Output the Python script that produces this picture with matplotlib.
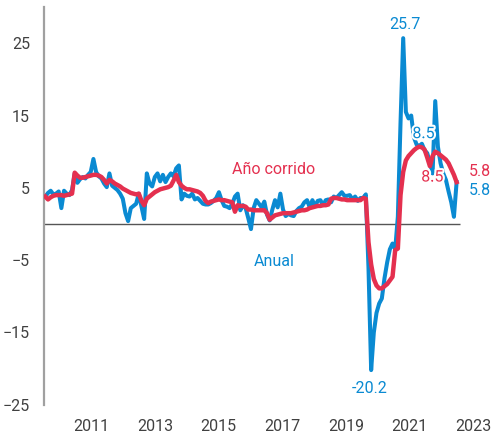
import numpy as np
import matplotlib
matplotlib.use("Agg")
import matplotlib.pyplot as plt
import matplotlib.patheffects as pe

plt.rcParams['font.family'] = ['Roboto', 'DejaVu Sans']

# monthly series, Feb 2010 .. Dec 2022
anual = [
    3.8, 4.3, 4.6, 4.1, 4.2, 4.5, 2.2, 4.6, 4.2, 4.0, 4.7,             # 2010
    7.0, 5.7, 6.2, 6.5, 6.3, 6.8, 7.2, 9.0, 7.2, 6.6, 6.3, 5.6,        # 2011
    5.1, 7.0, 5.3, 5.0, 4.7, 4.2, 3.5, 1.5, 0.4, 2.2, 2.5, 2.8,        # 2012
    4.2, 2.4, 0.7, 7.0, 5.6, 5.2, 6.5, 7.0, 5.9, 6.8, 5.8, 6.5,        # 2013
    7.0, 6.6, 7.7, 8.1, 3.4, 4.2, 3.9, 3.8, 4.2, 3.4, 3.6, 3.2,        # 2014
    2.8, 2.7, 2.7, 2.9, 3.2, 3.6, 4.4, 3.3, 2.5, 2.4, 2.2, 2.8,        # 2015
    3.8, 4.2, 1.9, 2.6, 2.2, 0.8, -0.7, 2.2, 3.3, 2.8, 2.3, 3.1,       # 2016
    1.3, 0.5, 2.0, 3.3, 2.3, 4.2, 2.0, 1.1, 1.4, 1.2, 1.1, 1.8,        # 2017
    2.2, 2.4, 3.0, 3.3, 2.3, 3.3, 2.5, 3.2, 3.3, 2.6, 3.3, 3.4,        # 2018
    3.0, 3.8, 3.6, 4.0, 4.4, 3.9, 3.9, 4.0, 3.4, 3.8, 3.2, 3.6,        # 2019
    3.6, 4.1, -6.0, -20.2, -15.0, -12.3, -11.0, -10.3, -7.5, -5.3, -3.5, -2.7,  # 2020
    -3.5, 1.0, 14.0, 25.7, 15.5, 14.6, 15.0, 12.0, 11.0, 10.8, 11.1, 10.2,      # 2021
    9.8, 8.5, 7.0, 17.0, 10.7, 8.4, 7.0, 6.1, 4.5, 3.0, 1.0, 5.8,      # 2022
]

ano_corrido = [
    3.8, 3.4, 3.7, 3.9, 4.0, 4.0, 4.0, 3.9, 4.0, 4.1, 4.2,
    7.1, 6.7, 6.4, 6.4, 6.5, 6.6, 6.7, 6.8, 6.8, 6.7, 6.5, 6.1,
    5.6, 6.1, 5.9, 5.6, 5.4, 5.2, 4.9, 4.7, 4.5, 4.3, 4.2, 4.1,
    4.2, 3.2, 2.6, 3.5, 3.8, 4.1, 4.4, 4.6, 4.8, 4.9, 5.0, 5.1,
    5.3, 6.0, 6.8, 5.8, 5.3, 5.0, 4.8, 4.8, 4.7, 4.6, 4.5, 4.3,
    3.9, 3.2, 2.9, 3.1, 3.2, 3.3, 3.4, 3.3, 3.3, 3.2, 3.1, 3.0,
    1.7, 2.6, 2.5, 2.5, 2.4, 2.0, 2.0, 1.9, 1.9, 1.9, 1.9, 1.9,
    1.5, 0.6, 0.9, 1.2, 1.3, 1.4, 1.5, 1.5, 1.5, 1.5, 1.6, 1.7,
    1.8, 1.9, 1.9, 2.0, 2.2, 2.3, 2.4, 2.5, 2.5, 2.6, 2.6, 2.7,
    3.5, 3.6, 3.6, 3.5, 3.4, 3.4, 3.3, 3.3, 3.3, 3.3, 3.3, 3.3,
    3.6, 3.5, -2.5, -5.6, -7.6, -8.5, -8.9, -8.9, -8.6, -8.3, -7.8, -7.3,
    -3.6, -3.4, 4.0, 7.2, 8.8, 9.4, 9.8, 10.2, 10.5, 10.7, 10.6, 10.3,
    9.2, 8.0, 9.4, 10.0, 9.8, 9.5, 9.2, 8.9, 8.4, 7.6, 6.8, 5.8,
]

years = ['2011', '2013', '2015', '2017', '2019', '2021', '2023']

BLUE = '#0A8AD2'
RED = '#E4304F'
GREY = '#404040'

x = np.arange(len(anual))

fig = plt.figure(figsize=(4.95, 4.4), dpi=100)
ax = fig.add_axes([0.0889, 0.08, 0.8713, 0.9039])

ax.hlines(0, -0.5, len(anual) + 0.3, color='#555555', lw=1, zorder=1)
ax.plot(x, anual, color=BLUE, lw=2.9, solid_joinstyle='round', zorder=2)
ax.plot(x, ano_corrido, color=RED, lw=3.2, solid_joinstyle='round', zorder=3)

ax.set_xlim(-0.5, 161)
ax.set_ylim(-25, 30)
ax.set_yticks([25, 15, 5, -5, -15, -25])
ax.set_xticks(17.3 + 23.8 * np.arange(len(years)))
ax.set_xticklabels(years)
ax.tick_params(length=0, labelsize=11.5, colors=GREY)
ax.tick_params(axis='x', pad=10)
ax.tick_params(axis='y', pad=10)

for s in ['top', 'right', 'bottom']:
    ax.spines[s].set_visible(False)
ax.spines['left'].set_color('#A0A0A0')
ax.spines['left'].set_linewidth(1.6)

halo = [pe.withStroke(linewidth=3, foreground='white')]

ax.text(134.6, 27.6, '25.7', color=BLUE, fontsize=11.5, ha='center', va='center')
ax.text(121.6, -22.7, '-20.2', color=BLUE, fontsize=11.5, ha='center', va='center')
ax.text(141.6, 12.5, '8.5', color=BLUE, fontsize=11.5, ha='center', va='center',
        path_effects=halo)
ax.text(144.9, 6.5, '8.5', color=RED, fontsize=11.5, ha='center', va='center',
        path_effects=halo)
ax.text(162.7, 7.2, '5.8', color=RED, fontsize=11.5, ha='center', va='center',
        clip_on=False)
ax.text(162.7, 4.7, '5.8', color=BLUE, fontsize=11.5, ha='center', va='center',
        clip_on=False)
ax.text(85.4, 7.6, 'Año corrido', color=RED, fontsize=11.5, ha='center', va='center')
ax.text(85.7, -5.2, 'Anual', color=BLUE, fontsize=11.5, ha='center', va='center')

fig.savefig('out.png', dpi=100)
